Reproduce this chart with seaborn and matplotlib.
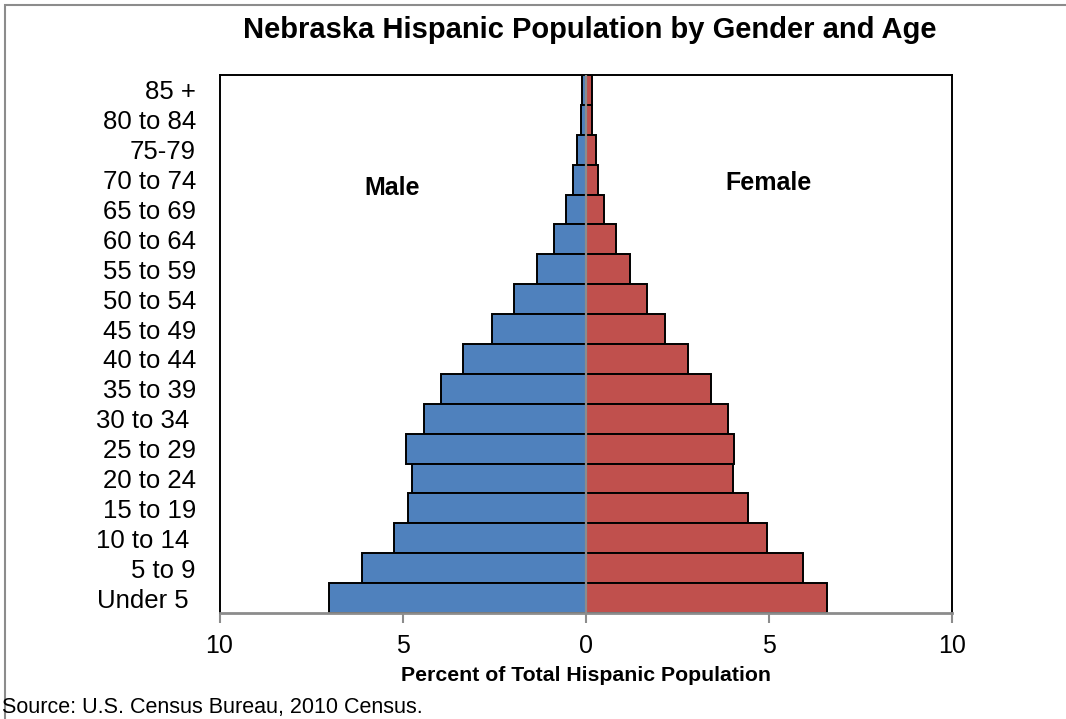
import matplotlib
matplotlib.use("Agg")
import matplotlib.pyplot as plt
from matplotlib.patches import Rectangle
import seaborn as sns
import pandas as pd

# Age groups listed top to bottom
age_groups = ["85 +", "80 to 84", "75-79", "70 to 74", "65 to 69", "60 to 64",
              "55 to 59", "50 to 54", "45 to 49", "40 to 44", "35 to 39",
              "30 to 34 ", "25 to 29", "20 to 24", "15 to 19", "10 to 14 ",
              "5 to 9", "Under 5 "]

# Percent of total Hispanic population
male_pct = [0.09, 0.12, 0.23, 0.35, 0.53, 0.88, 1.34, 1.97, 2.56, 3.35, 3.95,
            4.43, 4.91, 4.75, 4.85, 5.24, 6.10, 7.00]
female_pct = [0.16, 0.18, 0.27, 0.34, 0.49, 0.83, 1.21, 1.66, 2.17, 2.79, 3.43,
              3.88, 4.06, 4.01, 4.43, 4.95, 5.93, 6.60]

x_ticks = [-10, -5, 0, 5, 10]
x_tick_labels = ["10", "5", "0", "5", "10"]

sns.set_theme(style="white")
plt.rcParams["font.family"] = ["Liberation Sans", "DejaVu Sans"]
plt.rcParams["text.color"] = "black"
plt.rcParams["xtick.color"] = "black"
plt.rcParams["ytick.color"] = "black"
plt.rcParams["axes.labelcolor"] = "black"

male_color = "#4F81BD"
female_color = "#C0504D"

df = pd.DataFrame({
    "age": age_groups * 2,
    "value": [-v for v in male_pct] + female_pct,
    "sex": ["Male"] * len(age_groups) + ["Female"] * len(age_groups),
})

fig = plt.figure(figsize=(10.66, 7.19), dpi=100)
ax = fig.add_axes([219.5 / 1066, 1 - 613 / 719, (952 - 219.5) / 1066, (613 - 75) / 719])

sns.barplot(data=df, x="value", y="age", hue="sex", order=age_groups,
            palette={"Male": male_color, "Female": female_color},
            saturation=1, width=1.0, dodge=False, edgecolor="black",
            linewidth=1.4, legend=False, ax=ax, orient="h")

ax.set_xlim(-10, 10)
ax.set_ylim(len(age_groups) - 0.5, -0.5)
ax.axvline(0, color="#8C8C8C", linewidth=1.6, zorder=5)

ax.set_xticks(x_ticks)
ax.set_xticklabels(x_tick_labels, fontsize=18)
ax.tick_params(axis="x", direction="out", length=7, width=1.5, color="#8C8C8C",
               labelcolor="black", pad=8, bottom=True)
ax.tick_params(axis="y", length=0, pad=17, labelsize=18.5, labelcolor="black")
for lbl in ax.get_yticklabels():
    lbl.set_horizontalalignment("right")

ax.set_ylabel("")
ax.set_xlabel("Percent of Total Hispanic Population", fontsize=15.3,
              fontweight="bold", labelpad=6, color="black")

for side in ["top", "left", "right"]:
    ax.spines[side].set_color("black")
    ax.spines[side].set_linewidth(1.4)
ax.spines["bottom"].set_color("#8C8C8C")
ax.spines["bottom"].set_linewidth(2)

ax.text(-5.3, 3.27, "Male", fontsize=18, fontweight="bold", ha="center",
        va="center", color="black")
ax.text(5.0, 3.13, "Female", fontsize=18, fontweight="bold", ha="center",
        va="center", color="black")

fig.text(590 / 1066, 1 - 30 / 719, "Nebraska Hispanic Population by Gender and Age",
         fontsize=21, fontweight="bold", ha="center", va="center", color="black")
fig.text(2 / 1066, 1 - 707 / 719, "Source: U.S. Census Bureau, 2010 Census.",
         fontsize=15.5, ha="left", va="center", color="black")

# chart-area border
fig.patches.append(Rectangle((5 / 1066, -0.1), 1.2, 1 - 5 / 719 + 0.1,
                             transform=fig.transFigure, fill=False,
                             edgecolor="#8C8C8C", linewidth=1.5, zorder=0))

fig.savefig("out.png", dpi=100)
